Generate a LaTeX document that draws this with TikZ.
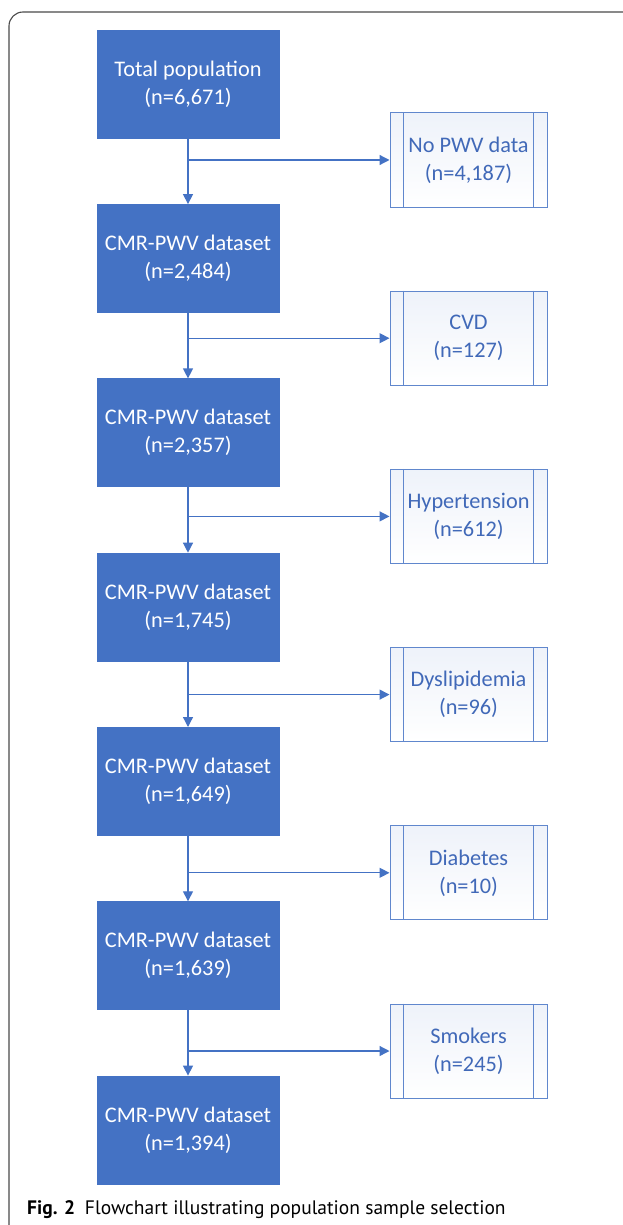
\documentclass[tikz,border=0pt]{standalone}
\usepackage{fontspec}
\setmainfont{Carlito}
\newfontfamily\capfont{PT Sans}
\usetikzlibrary{arrows.meta}
\definecolor{obl}{HTML}{4472C4}
\definecolor{sidetxt}{HTML}{4169B8}
\definecolor{frm}{HTML}{4A4A4A}
\tikzset{
  x=1pt, y=1pt,
  mainbox/.style={draw=obl, fill=obl, minimum width=182pt, minimum height=108pt,
    text=white, font=\fontsize{22.3}{28}\selectfont, align=center, inner sep=0pt},
  sidebox/.style={draw=obl!85, line width=1pt, top color=obl!9, bottom color=white,
    minimum width=157pt, minimum height=94pt, text=sidetxt,
    font=\fontsize{22.3}{28}\selectfont, align=center, inner sep=0pt},
  sideline/.style={draw=obl!85, line width=1pt},
  conn/.style={draw=obl, line width=1.3pt, -{Triangle[length=10pt,width=10pt]}},
  framestyle/.style={draw=frm, line width=1.1pt, rounded corners=14pt}
}
\begin{document}
\begin{tikzpicture}
\useasboundingbox (0,0) rectangle (623,-1225);
\clip (0,0) rectangle (623,-1225);
\draw[framestyle] (9,-1240) -- (9,-12) -- (640,-12);

\node[mainbox] (b1) at (188,-84)     {Total population\\(n=6,671)};
\node[mainbox] (b2) at (188,-258.3)  {CMR-PWV dataset\\(n=2,484)};
\node[mainbox] (b3) at (188,-432.6)  {CMR-PWV dataset\\(n=2,357)};
\node[mainbox] (b4) at (188,-606.9)  {CMR-PWV dataset\\(n=1,745)};
\node[mainbox] (b5) at (188,-781.2)  {CMR-PWV dataset\\(n=1,649)};
\node[mainbox] (b6) at (188,-955.5)  {CMR-PWV dataset\\(n=1,639)};
\node[mainbox] (b7) at (188,-1129.8) {CMR-PWV dataset\\(n=1,394)};

\node[sidebox] (s1) at (468.5,-160)    {No PWV data\\(n=4,187)};
\node[sidebox] (s2) at (468.5,-338.2)  {CVD\\(n=127)};
\node[sidebox] (s3) at (468.5,-516.4)  {Hypertension\\(n=612)};
\node[sidebox] (s4) at (468.5,-694.6)  {Dyslipidemia\\(n=96)};
\node[sidebox] (s5) at (468.5,-872.8)  {Diabetes\\(n=10)};
\node[sidebox] (s6) at (468.5,-1051)   {Smokers\\(n=245)};

\foreach \s in {s1,s2,s3,s4,s5,s6}{
  \draw[sideline] ([xshift=14pt]\s.north west) -- ([xshift=14pt]\s.south west);
  \draw[sideline] ([xshift=-14pt]\s.north east) -- ([xshift=-14pt]\s.south east);
}

\foreach \a/\b/\s in {b1/b2/s1,b2/b3/s2,b3/b4/s3,b4/b5/s4,b5/b6/s5,b6/b7/s6}{
  \draw[conn] (\a.south) -- (\b.north);
  \draw[conn] (\a.south |- \s.west) -- (\s.west);
}

\node[anchor=base west, inner sep=0pt] (cap) at (27,-1214)
  {\capfont\fontsize{19.5}{22}\selectfont\textbf{Fig. 2}\hspace{0.5em}Flowchart illustrating population sample selection};
\end{tikzpicture}
\end{document}
